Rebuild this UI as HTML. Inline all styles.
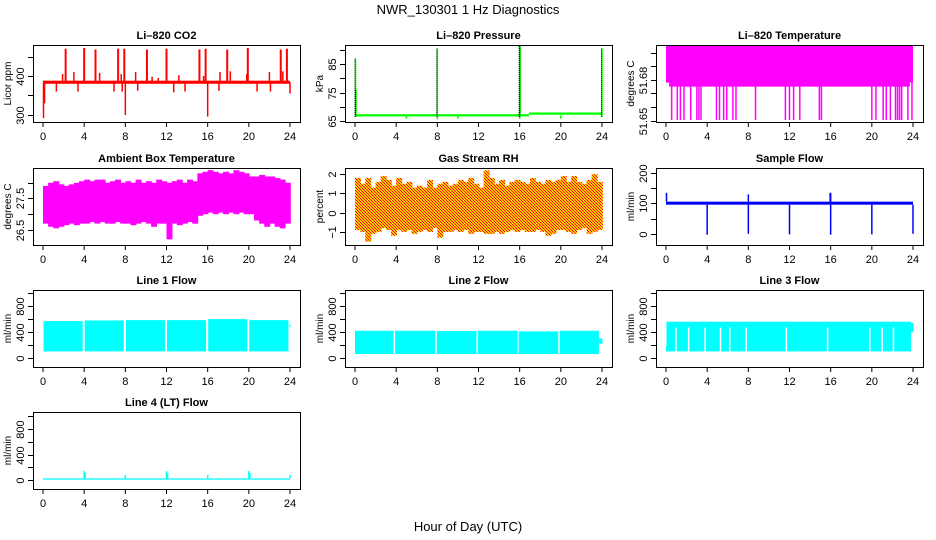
<!DOCTYPE html>
<html><head><meta charset="utf-8">
<style>
html,body{margin:0;padding:0;background:#fff;}
svg{display:block;font-family:"Liberation Sans",sans-serif;}
</style></head>
<body>
<svg id="chart" width="936" height="540" viewBox="0 0 936 540" xmlns="http://www.w3.org/2000/svg">
<defs>
<pattern id="rhpat" width="3" height="3" patternUnits="userSpaceOnUse">
<rect width="3" height="3" fill="#ffc800"/>
<rect x="0" y="0" width="1" height="1" fill="#ff0000"/>
<rect x="1" y="1" width="1" height="1" fill="#ff2000"/>
<rect x="2" y="2" width="1" height="1" fill="#ff0000"/>
</pattern>
</defs>
<text x="468" y="14" text-anchor="middle" font-size="13">NWR_130301  1 Hz Diagnostics</text>
<text x="468" y="531" text-anchor="middle" font-size="13">Hour of Day (UTC)</text>
</svg>
<script>
// ---- data ----
const hourTicks = [0,4,8,12,16,20,24];
// CO2
const co2Base = 384;
const co2SpikeT = [2.2,4.0,5.1,7.3,7.9,10.1,12.0,15.2,15.8,17.9,19.9,23.1,23.7];
const co2SpikeV = [470,472,468,470,470,468,470,468,470,468,472,468,470];
const co2DipT = [0.05,0.15,8.0,16.0,24.0,1.3,3.4,6.9,12.7,13.8,20.8,7.7,9.2,17.1,22.1];
const co2DipV = [292,330,300,296,355,360,360,360,358,360,360,360,362,362,360];
const co2BumpT = [1.9,3.0,5.5,7.6,9.0,10.6,11.2,13.2,15.6,17.2,18.2,19.8,22.0,23.3];
const co2BumpV = [405,410,408,405,410,398,395,402,400,410,412,405,410,412];
// Pressure
const presSegStart = [0.1,16.9];
const presSegEnd = [16.9,24];
const presSegV = [67.0,67.6];
const presSpikeT = [0.05,0.1,8.0,16.0,16.05,24.0];
const presSpikeV = [87,76,90.5,91.5,91.5,90.5];
const presDipT = [5.0,10.0,20.0,8.0,16.0];
const presDipV = [65.8,65.8,65.8,65.6,65.8];
// Li-820 temperature
const tempHi = 51.705;
const tempLo = 51.678;
const tempDropT = [0.55,1.1,1.4,1.75,2.4,3.0,3.2,3.4,4.9,5.2,5.6,5.9,6.5,6.8,8.7,11.6,12.0,12.4,13.0,14.9,15.1,20.0,20.4,21.1,21.4,21.8,22.3,22.5,22.7,22.9,23.5,23.9];
// Ambient box temperature (half-hour bins)
const ambHi = [27.9,28.0,28.05,27.95,27.9,27.95,28.0,28.05,28.1,28.05,28.1,28.1,28.0,28.05,28.1,28.0,28.05,28.0,28.1,28.0,28.05,28.0,28.1,28.05,28.0,28.05,28.1,28.0,28.1,28.05,28.3,28.35,28.4,28.35,28.3,28.35,28.3,28.4,28.35,28.3,28.2,28.2,28.25,28.2,28.2,28.15,28.1,28.0];
const ambLo = [26.7,26.6,26.55,26.6,26.65,26.7,26.65,26.7,26.7,26.75,26.7,26.75,26.7,26.7,26.75,26.7,26.7,26.65,26.7,26.75,26.7,26.6,26.7,26.7,26.2,26.7,26.65,26.7,26.75,26.7,26.95,27.0,27.05,27.0,27.05,27.0,27.05,27.0,27.05,27.0,27.0,26.8,26.7,26.6,26.7,26.6,26.55,26.7];
// Gas stream RH (half-hour bins)
const rhHi = [1.8,1.5,1.8,1.3,1.6,1.9,1.7,1.4,1.8,1.5,1.6,1.3,1.4,1.3,1.7,1.3,1.5,1.6,1.4,1.5,1.7,1.6,1.8,1.5,1.3,2.2,1.8,1.5,1.7,1.4,1.6,1.7,1.6,1.5,1.8,1.6,1.5,1.7,1.6,1.7,1.9,1.6,1.9,1.6,1.5,1.7,2.0,1.6];
const rhLo = [-0.9,-1.0,-1.5,-1.1,-1.0,-0.8,-0.9,-1.2,-0.9,-1.0,-0.9,-1.1,-1.0,-0.9,-1.0,-0.8,-1.3,-1.0,-1.0,-0.9,-1.0,-0.9,-1.1,-1.0,-1.0,-1.1,-1.1,-1.0,-1.1,-1.0,-0.9,-1.0,-0.9,-1.0,-1.0,-0.9,-1.0,-1.2,-1.1,-0.9,-0.9,-1.0,-1.1,-0.9,-0.8,-1.1,-1.0,-0.9];
// Sample flow
const sfHi = 106, sfLo = 96;
const sfDropT = [4.0,8.0,12.0,16.0,20.0,24.0];
const sfDropV = [-3,0,-2,-3,-2,0];
const sfSpikeT = [0.05,8.0,15.95,16.0];
const sfSpikeV = [135,130,135,135];
// Line flows
const l1Start = [0.05,4.05,8.05,12.05,16.05,20.05,23.95];
const l1End = [3.85,7.85,11.85,15.85,19.85,23.85,24.05];
const l1Hi = [570,580,585,585,600,585,520];
const l1Lo = [100,100,100,100,100,100,480];
const l2Start = [0.0,3.9,7.95,11.95,15.9,19.9,23.7];
const l2End = [3.75,7.8,11.8,15.8,19.75,23.7,24.05];
const l2Hi = [420,420,415,420,410,420,300];
const l2Lo = [60,60,60,60,60,60,220];
const l3Start = [0.0,0.05,23.8];
const l3End = [0.05,23.8,24.05];
const l3Hi = [180,560,540];
const l3Lo = [100,100,400];
const l3GapT = [0.97,2.2,3.8,5.3,6.2,7.8,11.7,15.7,19.8,21.0,22.1];
const l4Hi = 25, l4Lo = 5;
const l4SpikeT = [4.0,4.1,8.0,12.0,12.1,16.0,20.0,20.1,24.0];
const l4SpikeV = [140,110,80,140,110,80,140,110,80];

// ---- helpers ----
const NS = "http://www.w3.org/2000/svg";
const svg = document.getElementById('chart');
function mk(tag, attrs, parent){
  const e = document.createElementNS(NS, tag);
  for (const k in attrs) e.setAttribute(k, attrs[k]);
  (parent||svg).appendChild(e);
  return e;
}
const colL = [33,345,656], rowT = [45,168,290,412];
const W = 267, H = 77;

function panel(col,row,name,title,ylab,ymin,ymax,ticks,labels){
  const L = colL[col], T = rowT[row];
  const g = mk('g',{});
  
  
  const x = h => L + 10 + h/24*247;
  const y = v => T + H - (v - ymin)/(ymax - ymin)*H;
  const plot = mk('g',{}, g);
  
  
  const ax = mk('g',{}, g);
  
  
  const fr = mk('rect',{x:L+0.5,y:T+0.5,width:W,height:H,fill:'none',stroke:'#000','stroke-width':1}, ax);
  
  
  hourTicks.forEach(h=>{
    mk('line',{x1:x(h),x2:x(h),y1:T+H,y2:T+H+5,stroke:'#000'}, ax);
    const t = mk('text',{x:x(h),y:T+H+18,'text-anchor':'middle','font-size':11}, ax);
    
    
    t.textContent = h;
  });
  ticks.forEach((v,i)=>{
    const yy = Math.round(y(v))+0.5;
    mk('line',{x1:L-5,x2:L,y1:yy,y2:yy,stroke:'#000'}, ax);
    if (labels[i] !== '') {
      const t = mk('text',{x:L-9,y:yy,'text-anchor':'middle','font-size':11,transform:`rotate(-90 ${L-9} ${yy})`}, ax);
      
      
      t.textContent = labels[i];
    }
  });
  const yt = mk('text',{x:L-22,y:T+H/2,'text-anchor':'middle','font-size':10,transform:`rotate(-90 ${L-22} ${T+H/2})`}, ax);
  
  
  yt.textContent = ylab;
  const tt = mk('text',{x:L+W/2,y:T-6,'text-anchor':'middle','font-size':11,'font-weight':'bold'}, ax);
  
  
  tt.textContent = title;
  return {x,y,g:plot};
}
function vline(p,h,v1,v2,col,w,nm){
  const e = mk('line',{x1:p.x(h),x2:p.x(h),y1:p.y(v1),y2:p.y(v2),stroke:col,'stroke-width':w||1.5}, p.g);
  
  
}
function band(p,h1,h2,lo,hi,fill,nm,ov){
  const e = mk('rect',{x:p.x(h1),y:p.y(hi),width:Math.max(1,p.x(h2)-p.x(h1)+(ov||0)),height:Math.max(1,p.y(lo)-p.y(hi)),fill:fill}, p.g);
  
  
}

// CO2
let p = panel(0,0,'co2','Li\u2013820 CO2','Licor ppm',282,479.5,[300,350,400,450],['300','','400','']);
band(p,0,24,co2Base-4,co2Base+4,'#ff0000','co2-baseline');
co2SpikeT.forEach((t,i)=>vline(p,t,co2Base,co2SpikeV[i],'#ff0000',2,'co2-spike'));
co2DipT.forEach((t,i)=>vline(p,t,co2Base,co2DipV[i],'#ff0000',1.5,'co2-dip'));
co2BumpT.forEach((t,i)=>vline(p,t,co2Base,co2BumpV[i],'#ff0000',1.5,'co2-bump'));

// Pressure
p = panel(1,0,'pressure','Li\u2013820 Pressure','kPa',64.65,91.7,[65,70,75,80,85,90],['65','','75','','85','']);
presSegStart.forEach((s,i)=>band(p,s,presSegEnd[i],presSegV[i]-0.4,presSegV[i]+0.4,'#00ff00','pressure-baseline'));
presDipT.forEach((t,i)=>vline(p,t,67,presDipV[i],'#00ff00',1.5,'pressure-dip'));
presSpikeT.forEach((t,i)=>{vline(p,t,66.5,presSpikeV[i],'#00ff00',1.5,'pressure-spike');});
presSpikeT.forEach((t,i)=>{
  const e = mk('line',{x1:p.x(t)-0.5,x2:p.x(t)-0.5,y1:p.y(66.5),y2:p.y(presSpikeV[i]),stroke:'#000','stroke-width':1,'stroke-dasharray':'1 1'}, p.g);
  
  
});

// Temperature
p = panel(2,0,'li820-temp','Li\u2013820 Temperature','degrees C',51.649,51.7056,[51.65,51.66,51.67,51.68,51.69,51.70],['51.65','','','51.68','','']);
band(p,0,24,tempLo,tempHi,'#ff00ff','temp-band');
band(p,0.3,23.7,tempLo-0.003,tempLo,'#ff00ff','temp-band-lower');
tempDropT.forEach(t=>vline(p,t,tempLo,51.6505,'#ff00ff',1.5,'temp-drop'));

// Ambient
p = panel(0,1,'ambient-temp','Ambient Box Temperature','degrees C',26.02,28.47,[26.5,27,27.5,28],['26.5','','27.5','']);
ambHi.forEach((v,i)=>band(p,i*0.5,i*0.5+0.5,ambLo[i],v,'#ff00ff','ambient-bin',0.8));

// RH
p = panel(1,1,'rh','Gas Stream RH','percent',-1.68,2.32,[-1,0,1,2],['\u22121','0','1','2']);
rhHi.forEach((v,i)=>band(p,i*0.5,i*0.5+0.5,rhLo[i],v,'url(#rhpat)','rh-bin',0.8));

// Sample flow
p = panel(2,1,'sample-flow','Sample Flow','ml/min',-37,217,[0,50,100,150,200],['0','','100','','200']);
band(p,0,24,sfLo,sfHi,'#0000ff','sample-flow-band');
sfDropT.forEach((t,i)=>vline(p,t,sfLo,sfDropV[i],'#0000ff',1.5,'sample-flow-drop'));
sfSpikeT.forEach((t,i)=>vline(p,t,sfHi,sfSpikeV[i],'#0000ff',1.5,'sample-flow-spike'));

const flowTicks = [0,200,400,600,800,1000], flowLabels = ['0','','400','','800',''];
// Line 1
p = panel(0,2,'line1-flow','Line 1 Flow','ml/min',-141,1051,flowTicks,flowLabels);
l1Start.forEach((s,i)=>band(p,s,l1End[i],l1Lo[i],l1Hi[i],'#00ffff','line1-segment'));
// Line 2
p = panel(1,2,'line2-flow','Line 2 Flow','ml/min',-141,1051,flowTicks,flowLabels);
l2Start.forEach((s,i)=>band(p,s,l2End[i],l2Lo[i],l2Hi[i],'#00ffff','line2-segment'));
// Line 3
p = panel(2,2,'line3-flow','Line 3 Flow','ml/min',-141,1051,flowTicks,flowLabels);
l3Start.forEach((s,i)=>band(p,s,l3End[i],l3Lo[i],l3Hi[i],'#00ffff','line3-segment'));
l3GapT.forEach(t=>vline(p,t,100,470,'#ffffff',1.5,'line3-gap'));
// Line 4
p = panel(0,3,'line4-flow','Line 4 (LT) Flow','ml/min',-141,1067,flowTicks,flowLabels);
band(p,0,24,l4Lo,l4Hi,'#00ffff','line4-baseline');
l4SpikeT.forEach((t,i)=>vline(p,t,l4Hi,l4SpikeV[i],'#00ffff',1.5,'line4-spike'));
</script>
</body></html>
